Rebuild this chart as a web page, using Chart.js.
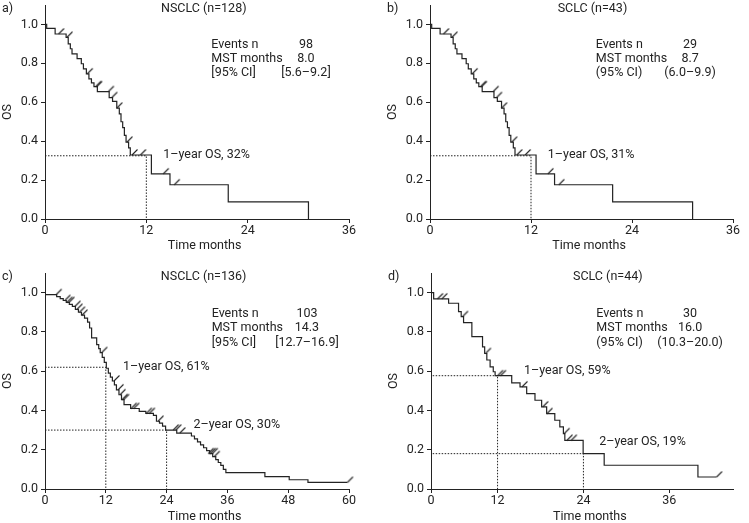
<!DOCTYPE html>
<html>
<head>
<meta charset="utf-8">
<script src="https://cdn.jsdelivr.net/npm/chart.js@4.4.1/dist/chart.umd.min.js"></script>
<style>
  body { margin: 0; background: #fff; }
  #wrap { position: relative; width: 749px; height: 523px; }
  canvas { position: absolute; left: 0; top: 0; }
</style>
</head>
<body>
<div id="wrap">
  <canvas id="pa" width="749" height="523"></canvas>
  <canvas id="pb" width="749" height="523"></canvas>
  <canvas id="pc" width="749" height="523"></canvas>
  <canvas id="pd" width="749" height="523"></canvas>
</div>
<script>
const INK = '#232323';
const FONT_SIZE = 12.5;

// axis ticks
const yTicks = [0, 0.2, 0.4, 0.6, 0.8, 1.0];
const xTicks36 = [0, 12, 24, 36];
const xTicks60 = [0, 12, 24, 36, 48, 60];

// a) NSCLC (n=128) - survival steps (time in months, OS)
const aTimes = [0, 0.2, 1.2, 2.5, 2.75, 3.0, 3.2, 3.8, 4.3, 4.55, 4.9, 5.2, 5.5, 5.8, 6.2, 7.6, 8.0, 8.5, 8.8, 9.0, 9.2, 9.4, 9.6, 9.9, 10.1, 12.6, 14.8, 21.7, 31.2];
const aSurv = [1, 0.98, 0.951, 0.934, 0.90, 0.875, 0.849, 0.824, 0.798, 0.772, 0.746, 0.72, 0.70, 0.68, 0.655, 0.624, 0.605, 0.57, 0.54, 0.50, 0.47, 0.43, 0.395, 0.366, 0.329, 0.232, 0.176, 0.088, 0];
const aCensTimes = [1.6, 2.6, 5.0, 6.0, 6.1, 7.5, 7.9, 8.5, 9.7, 10.3, 11.3, 14.0, 15.3];
const aCensSurv = [0.951, 0.934, 0.746, 0.68, 0.68, 0.655, 0.624, 0.57, 0.395, 0.329, 0.329, 0.232, 0.176];
const aGuideTimes = [12];
const aGuideSurv = [0.325];
const aGuideLabels = ['1\u2013year OS, 32%'];
const aStatNames = ['Events n', 'MST months', '[95% CI]'];
const aStatValues = ['98', '8.0', '[5.6\u20139.2]'];

// b) SCLC (n=43) - the figure shows the same curve as a)
const bTimes = aTimes;
const bSurv = aSurv;
const bCensTimes = aCensTimes;
const bCensSurv = aCensSurv;
const bGuideTimes = [12];
const bGuideSurv = [0.325];
const bGuideLabels = ['1\u2013year OS, 31%'];
const bStatNames = ['Events n', 'MST months', '(95% CI)'];
const bStatValues = ['29', '8.7', '(6.0\u20139.9)'];

// c) NSCLC (n=136)
const cTimes = [0, 2.3, 3.0, 3.6, 4.2, 4.8, 5.4, 6.0, 6.6, 7.2, 7.8, 8.4, 8.8, 9.2, 10.2, 10.6, 10.9, 11.3, 11.7, 12.1, 12.5, 12.9, 13.3, 13.7, 14.1, 14.6, 15.1, 15.6, 16.9, 18.6, 19.9, 21.4, 22.0, 22.6, 23.2, 23.8, 26.0, 28.9, 29.5, 30.1, 30.7, 31.3, 31.9, 32.5, 33.1, 33.7, 34.2, 34.7, 35.2, 35.7, 43.4, 48.2, 51.9, 59.7];
const cSurv = [0.99, 0.98, 0.97, 0.96, 0.95, 0.94, 0.93, 0.915, 0.90, 0.885, 0.87, 0.85, 0.82, 0.77, 0.735, 0.715, 0.695, 0.67, 0.645, 0.615, 0.59, 0.57, 0.55, 0.53, 0.505, 0.48, 0.455, 0.43, 0.41, 0.395, 0.385, 0.375, 0.345, 0.335, 0.32, 0.30, 0.285, 0.27, 0.255, 0.24, 0.225, 0.21, 0.195, 0.18, 0.165, 0.15, 0.135, 0.12, 0.10, 0.083, 0.063, 0.047, 0.034, 0.034];
const cCensTimes = [2.2, 3.9, 4.3, 4.7, 5.9, 6.3, 6.8, 7.3, 11.2, 13.6, 14.4, 14.8, 15.2, 15.5, 17.0, 17.5, 20.0, 20.6, 22.3, 25.3, 25.8, 26.6, 32.2, 32.6, 33.0, 33.4, 59.7];
const cCensSurv = [0.99, 0.96, 0.95, 0.95, 0.93, 0.915, 0.90, 0.885, 0.695, 0.55, 0.505, 0.48, 0.455, 0.455, 0.41, 0.41, 0.385, 0.385, 0.345, 0.30, 0.30, 0.285, 0.18, 0.18, 0.18, 0.165, 0.034];
const cGuideTimes = [12, 24];
const cGuideSurv = [0.62, 0.30];
const cGuideLabels = ['1\u2013year OS, 61%', '2\u2013year OS, 30%'];
const cStatNames = ['Events n', 'MST months', '[95% CI]'];
const cStatValues = ['103', '14.3', '[12.7\u201316.9]'];

// d) SCLC (n=44)
const dTimes = [0, 3.07, 5.16, 6.55, 6.92, 7.25, 8.41, 9.9, 10.2, 10.5, 10.96, 11.4, 11.66, 13.98, 15.14, 16.07, 17.23, 18.16, 18.86, 20.0, 20.7, 21.2, 21.4, 23.96, 26.9, 40.0, 42.6];
const dSurv = [1.0, 0.968, 0.946, 0.903, 0.878, 0.847, 0.776, 0.724, 0.69, 0.657, 0.622, 0.597, 0.577, 0.54, 0.52, 0.486, 0.452, 0.418, 0.384, 0.35, 0.316, 0.282, 0.248, 0.18, 0.121, 0.061, 0.061];
const dCensTimes = [3.6, 4.2, 7.1, 10.3, 12.0, 12.4, 15.4, 18.3, 18.9, 21.3, 21.7, 22.3, 42.6];
const dCensSurv = [0.968, 0.968, 0.878, 0.69, 0.577, 0.577, 0.52, 0.418, 0.384, 0.282, 0.248, 0.248, 0.061];
const dGuideTimes = [12, 24];
const dGuideSurv = [0.577, 0.18];
const dGuideLabels = ['1\u2013year OS, 59%', '2\u2013year OS, 19%'];
const dStatNames = ['Events n', 'MST months', '(95% CI)'];
const dStatValues = ['30', '16.0', '(10.3\u201320.0)'];

Chart.defaults.font.family = 'Roboto';
Chart.defaults.font.size = FONT_SIZE;
Chart.defaults.color = INK;

// censor mark: short "/" starting on the curve
function makeCensorMark() {
    const c = document.createElement('canvas');
    c.width = 16;
    c.height = 16;
    const g = c.getContext('2d');
    g.strokeStyle = INK;
    g.lineWidth = 1.1;
    g.beginPath();
    g.moveTo(8, 8);
    g.lineTo(13.5, 2.5);
    g.stroke();
    return c;
}
const censorMark = makeCensorMark();

function toPoints(xs, ys) {
    return xs.map((x, i) => ({ x: x, y: ys[i] }));
}

function makePanel(cfg) {
    const datasets = [{
        data: toPoints(cfg.times, cfg.surv),
        stepped: 'before',
        borderColor: INK,
        borderWidth: 1.2,
        pointRadius: 0,
        fill: false
    }, {
        data: toPoints(cfg.censTimes, cfg.censSurv),
        showLine: false,
        pointStyle: censorMark,
        pointRadius: 3,
        clip: false
    }];

    // dotted 1-year / 2-year guides
    cfg.guideTimes.forEach((t, i) => {
        const s = cfg.guideSurv[i];
        datasets.push({
            data: [{ x: 0, y: s }, { x: t, y: s }, { x: t, y: 0 }],
            borderColor: INK,
            borderWidth: 1,
            borderDash: [1.5, 1.5],
            pointRadius: 0,
            fill: false
        });
    });

    const textPlugin = {
        id: 'panelText',
        afterDraw(chart) {
            const ctx = chart.ctx;
            const x = chart.scales.x;
            const y = chart.scales.y;
            ctx.save();
            ctx.font = FONT_SIZE + 'px Roboto';
            ctx.fillStyle = INK;
            ctx.textBaseline = 'middle';

            const titleY = y.getPixelForValue(cfg.titleAt[1]);
            ctx.textAlign = 'left';
            ctx.fillText(cfg.letter, y.left + 2, titleY);
            ctx.textAlign = 'center';
            ctx.fillText(cfg.title, x.getPixelForValue(cfg.titleAt[0]), titleY);

            // stats block
            cfg.statNames.forEach((name, i) => {
                const py = y.getPixelForValue(cfg.statsY[i]);
                ctx.textAlign = 'left';
                ctx.fillText(name, x.getPixelForValue(cfg.statsX[0]), py);
                ctx.textAlign = 'center';
                ctx.fillText(cfg.statValues[i], x.getPixelForValue(cfg.statsX[1]), py);
            });

            // guide labels
            ctx.textAlign = 'left';
            cfg.guideLabels.forEach((label, i) => {
                const at = cfg.guideLabelAt[i];
                ctx.fillText(label, x.getPixelForValue(at[0]), y.getPixelForValue(at[1]));
            });

            // x axis title
            ctx.textAlign = 'center';
            ctx.fillText('Time months', x.getPixelForValue(cfg.xTitleAt[0]), y.getPixelForValue(cfg.xTitleAt[1]));
            ctx.restore();
        }
    };

    return new Chart(document.getElementById(cfg.id), {
        type: 'line',
        data: { datasets: datasets },
        plugins: [textPlugin],
        options: {
            responsive: false,
            animation: false,
            events: [],
            layout: { padding: cfg.pad },
            plugins: {
                legend: { display: false },
                tooltip: { enabled: false }
            },
            scales: {
                x: {
                    type: 'linear',
                    min: cfg.xMin,
                    max: cfg.xMax,
                    afterBuildTicks: (ax) => {
                        ax.ticks = cfg.xTicks.map(v => ({ value: Math.max(v, cfg.xMin) }));
                    },
                    afterFit: (ax) => {
                        ax.height = 34;
                        ax.paddingLeft = 0;
                        ax.paddingRight = 0;
                    },
                    grid: { drawOnChartArea: false, drawTicks: true, tickLength: 4, color: INK },
                    border: { color: INK, width: 1 },
                    ticks: {
                        padding: 0,
                        maxRotation: 0,
                        autoSkip: false,
                        callback: (v, i) => String(cfg.xTicks[i])
                    }
                },
                y: {
                    min: 0,
                    max: 1.1,
                    afterBuildTicks: (ax) => {
                        ax.ticks = yTicks.map(v => ({ value: v }));
                    },
                    afterFit: (ax) => {
                        ax.width = 45;
                        ax.paddingTop = 0;
                        ax.paddingBottom = 0;
                    },
                    grid: { drawOnChartArea: false, drawTicks: true, tickLength: 4, color: INK },
                    border: { color: INK, width: 1 },
                    ticks: {
                        padding: 3,
                        callback: (v) => v.toFixed(1)
                    },
                    title: { display: true, text: 'OS', padding: 0 }
                }
            }
        }
    });
}

makePanel({
    id: 'pa', letter: 'a)', title: 'NSCLC (n=128)',
    times: aTimes, surv: aSurv, censTimes: aCensTimes, censSurv: aCensSurv,
    guideTimes: aGuideTimes, guideSurv: aGuideSurv, guideLabels: aGuideLabels,
    statNames: aStatNames, statValues: aStatValues,
    xMin: 0, xMax: 36, xTicks: xTicks36,
    pad: { left: 0, top: 3, right: 400, bottom: 270 },
    titleAt: [18.8, 1.08], statsX: [19.7, 30.9], statsY: [0.895, 0.821, 0.75],
    guideLabelAt: [[14.0, 0.33]], xTitleAt: [18.9, -0.136]
});

makePanel({
    id: 'pb', letter: 'b)', title: 'SCLC (n=43)',
    times: bTimes, surv: bSurv, censTimes: bCensTimes, censSurv: bCensSurv,
    guideTimes: bGuideTimes, guideSurv: bGuideSurv, guideLabels: bGuideLabels,
    statNames: bStatNames, statValues: bStatValues,
    xMin: 0, xMax: 36, xTicks: xTicks36,
    pad: { left: 385, top: 3, right: 16, bottom: 270 },
    titleAt: [19.3, 1.08], statsX: [19.7, 30.9], statsY: [0.895, 0.821, 0.75],
    guideLabelAt: [[14.0, 0.33]], xTitleAt: [18.9, -0.136]
});

makePanel({
    id: 'pc', letter: 'c)', title: 'NSCLC (n=136)',
    times: cTimes, surv: cSurv, censTimes: cCensTimes, censSurv: cCensSurv,
    guideTimes: cGuideTimes, guideSurv: cGuideSurv, guideLabels: cGuideLabels,
    statNames: cStatNames, statValues: cStatValues,
    xMin: 0, xMax: 60, xTicks: xTicks60,
    pad: { left: 0, top: 273, right: 400, bottom: 0 },
    titleAt: [31.3, 1.08], statsX: [32.9, 51.7], statsY: [0.891, 0.818, 0.745],
    guideLabelAt: [[15.4, 0.62], [29.3, 0.326]], xTitleAt: [31.5, -0.141]
});

// the d) axis in the figure starts a little after 0 (its "0" tick sits at the axis corner)
makePanel({
    id: 'pd', letter: 'd)', title: 'SCLC (n=44)',
    times: dTimes, surv: dSurv, censTimes: dCensTimes, censSurv: dCensSurv,
    guideTimes: dGuideTimes, guideSurv: dGuideSurv, guideLabels: dGuideLabels,
    statNames: dStatNames, statValues: dStatValues,
    xMin: 2.7, xMax: 44.9, xTicks: xTicks36,
    pad: { left: 386, top: 273, right: 16, bottom: 0 },
    titleAt: [27.4, 1.08], statsX: [25.8, 38.9], statsY: [0.891, 0.818, 0.745],
    guideLabelAt: [[15.7, 0.604], [26.2, 0.24]], xTitleAt: [24.9, -0.141]
});
</script>
</body>
</html>
